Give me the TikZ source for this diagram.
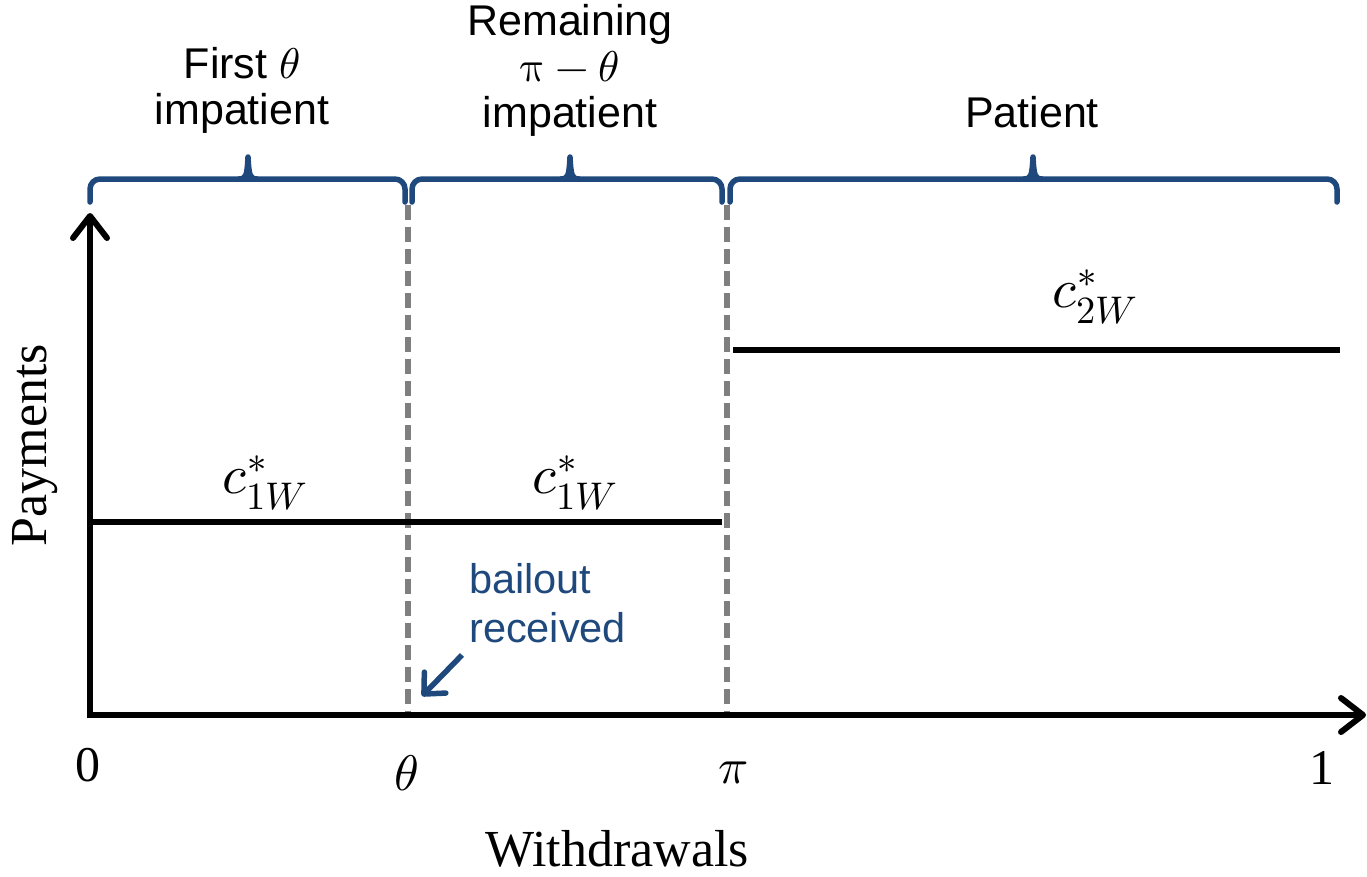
\documentclass[tikz,border=0pt]{standalone}
\usepackage{unicode-math}
\setmainfont{Liberation Serif}
\setmathfont{Latin Modern Math}
\newfontfamily\sansf{Liberation Sans}
\usetikzlibrary{arrows.meta}
\definecolor{bbblue}{RGB}{31,73,125}
\definecolor{dgray}{RGB}{127,127,127}
\tikzset{
  axisline/.style={line width=6pt,-{Straight Barb[length=22pt,width=34pt,round]}},
  levelline/.style={line width=6pt},
  guideline/.style={dgray,line width=6.5pt,dash pattern=on 15pt off 7pt},
  bracepath/.style={bbblue,line width=5.5pt,line cap=round,line join=round},
  toplabel/.style={font=\sansf\fontsize{43}{46}\selectfont,align=center,inner sep=0pt},
  ticklabel/.style={font=\fontsize{50}{56}\selectfont,inner sep=0pt},
  mathlabel/.style={font=\fontsize{55}{60}\selectfont,inner sep=0pt},
  axislabel/.style={font=\fontsize{52}{58}\selectfont,inner sep=0pt},
  notelabel/.style={font=\sansf\fontsize{41.5}{49}\selectfont,text=bbblue,align=left,inner sep=0pt},
  notearrow/.style={bbblue,line width=5.5pt,-{Straight Barb[length=16pt,width=30pt,round]}}
}
\newcommand\drawmybrace[3]{%
  \draw[bracepath,rounded corners=10pt] (#1,202) -- (#1,179) -- (#3,179) -- (#3,202);
  \draw[bracepath] (#2-9,179) .. controls (#2-2,179) and (#2-1,176) .. (#2,157)
     .. controls (#2+1,176) and (#2+2,179) .. (#2+9,179);
}
\begin{document}
\begin{tikzpicture}[x=1pt,y=-1pt]
\useasboundingbox (0,0) rectangle (1367,876);
% coordinates
\coordinate (O) at (90,715);
\coordinate (ybot) at (90,718);
\coordinate (ytop) at (90,213);
\coordinate (xleft) at (87,715);
\coordinate (xtip) at (1366,715);
\coordinate (thtop) at (408,205);
\coordinate (thbot) at (408,713);
\coordinate (pitop) at (727,205);
\coordinate (pibot) at (727,713);
\coordinate (c1a) at (90,522);
\coordinate (c1b) at (722,522);
\coordinate (c2a) at (733,350);
\coordinate (c2b) at (1340,350);
% guides
\draw[guideline] (thtop) -- (thbot);
\draw[guideline] (pitop) -- (pibot);
% levels
\draw[levelline] (c1a) -- (c1b);
\draw[levelline] (c2a) -- (c2b);
% axes
\draw[axisline] (ybot) -- (ytop);
\draw[axisline] (xleft) -- (xtip);
% braces
\drawmybrace{90}{248}{405}
\drawmybrace{412}{570}{722}
\drawmybrace{730}{1033}{1337}
% top labels
\node[toplabel] (lab1) at (242,90) {First $\theta$\\impatient};
\node[toplabel] (lab2) at (570,70) {Remaining\\$\uppi-\theta$\\impatient};
\node[toplabel] (lab3) at (1032,112) {Patient};
% level labels
\node[mathlabel] (c1l) at (265,483) {$c^*_{1W}$};
\node[mathlabel] (c1r) at (575,483) {$c^*_{1W}$};
\node[mathlabel] (c2) at (1095,297) {$c^*_{2W}$};
% ticks
\node[ticklabel] (t0) at (88,765) {0};
\node[ticklabel] (tth) at (407,773) {$\theta$};
\node[ticklabel] (tpi) at (733,773) {$\pi$};
\node[ticklabel] (t1) at (1322,768) {1};
% axis labels
\node[axislabel] (xl) at (617,849) {Withdrawals};
\node[axislabel,rotate=90] (yl) at (35,445) {Payments};
% note
\node[notelabel,anchor=west] (note) at (469,603) {bailout\\received};
\coordinate (notestart) at (462,655);
\coordinate (noteend) at (422,696);
\draw[notearrow] (notestart) -- (noteend);
\end{tikzpicture}
\end{document}
